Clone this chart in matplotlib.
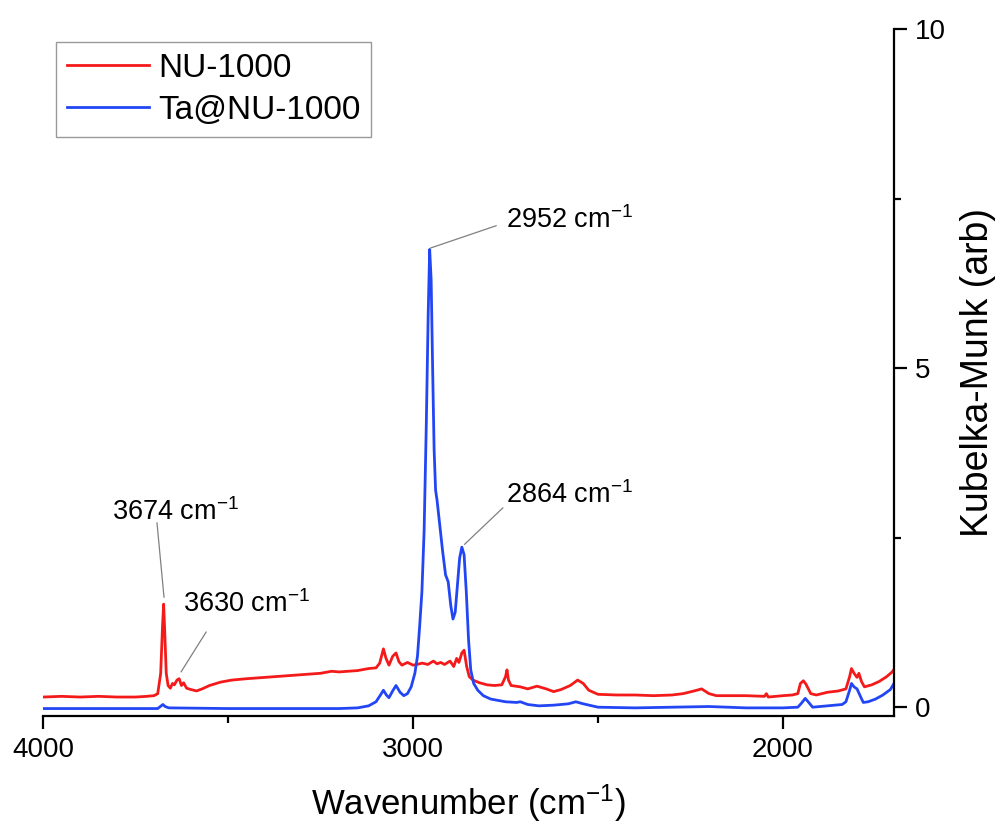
import numpy as np
import matplotlib.pyplot as plt

plt.rcParams['font.family'] = 'Liberation Sans'
plt.rcParams['mathtext.fontset'] = 'custom'
plt.rcParams['mathtext.rm'] = 'Liberation Sans'
plt.rcParams['mathtext.it'] = 'Liberation Sans:italic'

# NU-1000 (wavenumber, Kubelka-Munk)
red_x = [4000, 3950, 3900, 3850, 3800, 3750, 3720, 3700, 3690, 3682, 3677, 3674, 3671, 3667,
         3662, 3656, 3650, 3645, 3638, 3632, 3626, 3620, 3612, 3600, 3585, 3570, 3550, 3520,
         3490, 3450, 3400, 3350, 3300, 3250, 3220, 3200, 3150, 3120, 3100, 3090, 3080, 3073,
         3065, 3055, 3046, 3038, 3030, 3015, 3000, 2990, 2975, 2960, 2945, 2935, 2925, 2915,
         2900, 2890, 2882, 2876, 2868, 2862, 2855, 2848, 2838, 2820, 2800, 2780, 2760, 2750,
         2746, 2742, 2735, 2710, 2690, 2665, 2640, 2620, 2600, 2575, 2555, 2540, 2525, 2500,
         2450, 2400, 2350, 2300, 2270, 2240, 2220, 2200, 2180, 2100, 2050, 2045, 2040, 2000,
         1975, 1960, 1953, 1945, 1938, 1925, 1910, 1880, 1850, 1830, 1820, 1815, 1808, 1800,
         1795, 1788, 1780, 1760, 1740, 1720, 1705, 1700]
red_y = [0.15, 0.16, 0.15, 0.16, 0.15, 0.15, 0.16, 0.17, 0.2, 0.5, 1.2, 1.52, 1.1, 0.5,
         0.32, 0.28, 0.35, 0.33, 0.4, 0.42, 0.32, 0.36, 0.28, 0.26, 0.24, 0.27, 0.32, 0.37,
         0.4, 0.42, 0.44, 0.46, 0.48, 0.5, 0.53, 0.52, 0.54, 0.57, 0.58, 0.65, 0.86, 0.72,
         0.62, 0.75, 0.8, 0.67, 0.62, 0.66, 0.62, 0.63, 0.65, 0.63, 0.68, 0.64, 0.66, 0.63,
         0.68, 0.6, 0.72, 0.66, 0.8, 0.84, 0.6, 0.45, 0.4, 0.36, 0.33, 0.32, 0.33, 0.45,
         0.55, 0.4, 0.32, 0.3, 0.27, 0.31, 0.27, 0.23, 0.26, 0.32, 0.4, 0.35, 0.25, 0.19,
         0.18, 0.18, 0.17, 0.18, 0.2, 0.24, 0.27, 0.2, 0.17, 0.17, 0.16, 0.2, 0.15, 0.17,
         0.18, 0.2, 0.35, 0.39, 0.34, 0.2, 0.18, 0.22, 0.24, 0.27, 0.45, 0.57, 0.5, 0.44,
         0.5, 0.38, 0.3, 0.33, 0.38, 0.45, 0.52, 0.56]

# Ta@NU-1000
blue_x = [4000, 3690, 3676, 3670, 3660, 3500, 3200, 3150, 3120, 3100, 3088, 3080, 3072, 3065,
          3055, 3046, 3035, 3025, 3015, 3005, 2995, 2988, 2982, 2976, 2970, 2964, 2959, 2955,
          2951, 2947, 2943, 2939, 2935, 2928, 2920, 2912, 2905, 2898, 2892, 2886, 2880, 2874,
          2868, 2862, 2856, 2850, 2844, 2836, 2825, 2810, 2790, 2770, 2750, 2720, 2710, 2690,
          2660, 2620, 2580, 2560, 2540, 2500, 2400, 2300, 2200, 2100, 2000, 1960, 1950, 1940,
          1932, 1920, 1880, 1840, 1830, 1820, 1815, 1808, 1800, 1790, 1783, 1770, 1750, 1730,
          1710, 1700]
blue_y = [-0.02, -0.02, 0.04, 0.01, -0.01, -0.02, -0.02, -0.01, 0.02, 0.08, 0.18, 0.25, 0.18, 0.14,
          0.24, 0.32, 0.22, 0.17, 0.2, 0.3, 0.5, 0.75, 1.2, 1.7, 2.6, 4.2, 5.8, 6.75,
          6.3, 5.0, 3.8, 3.2, 3.05, 2.7, 2.3, 1.95, 1.85, 1.5, 1.3, 1.4, 1.8, 2.2,
          2.36, 2.25, 1.7, 1.0, 0.55, 0.35, 0.25, 0.17, 0.12, 0.1, 0.08, 0.07, 0.08, 0.04,
          0.02, 0.03, 0.05, 0.08, 0.05, 0.0, -0.01, 0.0, 0.01, -0.01, -0.01, 0.0, 0.06, 0.13,
          0.08, 0.0, 0.02, 0.04, 0.08, 0.25, 0.35, 0.3, 0.27, 0.15, 0.07, 0.08, 0.12, 0.18,
          0.26, 0.35]

# peak labels: text, peak point, line start, text position
peak_labels = ['3674 cm$^{-1}$', '3630 cm$^{-1}$', '2952 cm$^{-1}$', '2864 cm$^{-1}$']
peak_pts = [(3673, 1.62), (3627, 0.52), (2953, 6.77), (2861, 2.4)]
line_from = [(3692, 2.72), (3559, 1.11), (2775, 7.1), (2757, 2.94)]
text_pos = [(3643, 2.87), (3451, 1.52), (2578, 7.18), (2578, 3.13)]

fig = plt.figure(figsize=(9.96, 8.27), dpi=100)
ax = fig.add_axes([0.0432, 0.1342, 0.8544, 0.8307])

ax.plot(red_x, red_y, color='#f51a1a', lw=2.0, label='NU-1000')
ax.plot(blue_x, blue_y, color='#2346f5', lw=2.0, label='Ta@NU-1000')

for lab, pt, start, tp in zip(peak_labels, peak_pts, line_from, text_pos):
    ax.annotate('', xy=pt, xytext=start,
                arrowprops=dict(arrowstyle='-', color='gray', lw=0.9, shrinkA=0, shrinkB=0))
    ax.text(tp[0], tp[1], lab, fontsize=19.5, ha='center', va='center')

ax.set_xlim(4000, 1700)
ax.set_ylim(-0.13, 10)

ax.spines['left'].set_visible(False)
ax.spines['top'].set_visible(False)
ax.spines['right'].set_linewidth(1.6)
ax.spines['bottom'].set_linewidth(1.6)

ax.set_xticks([4000, 3000, 2000])
ax.set_xticks([3500, 2500], minor=True)
ax.set_yticks([0, 5, 10])
ax.set_yticks([2.5, 7.5], minor=True)
ax.yaxis.tick_right()
ax.yaxis.set_label_position('right')
ax.tick_params(which='major', direction='out', length=9, width=1.6, labelsize=20, pad=6)
ax.tick_params(which='minor', direction='out', length=5, width=1.6)

ax.set_xlabel('Wavenumber (cm$^{-1}$)', fontsize=25, labelpad=14)
ax.set_ylabel('Kubelka-Munk (arb)', fontsize=27, labelpad=10)

leg = ax.legend(loc='upper left', fontsize=24, frameon=True, fancybox=False,
                edgecolor='gray', handlelength=2.45, borderpad=0.32, labelspacing=0.33,
                handletextpad=0.28, borderaxespad=0.4)
leg.get_frame().set_linewidth(1.0)

plt.savefig('out.png', dpi=100)
